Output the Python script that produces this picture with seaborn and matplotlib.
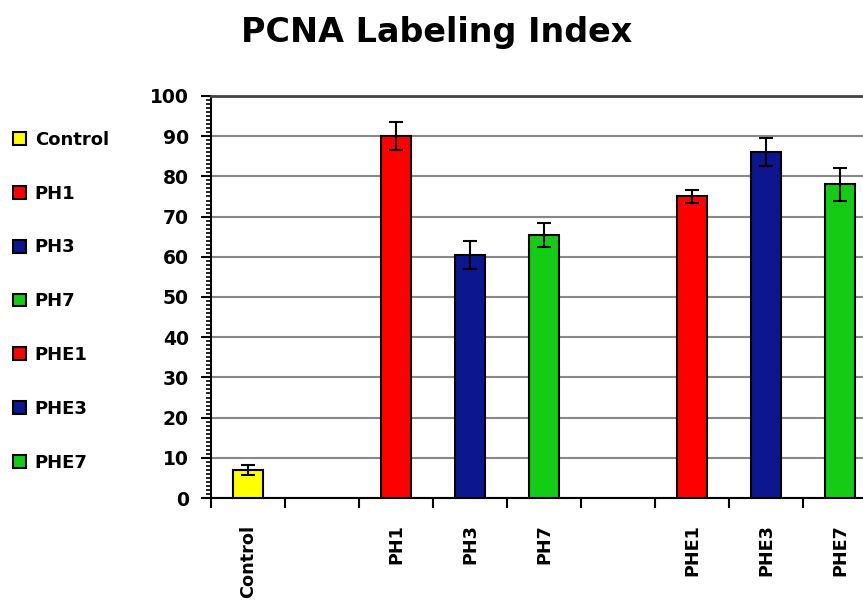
import matplotlib
matplotlib.use("Agg")
import matplotlib.pyplot as plt
from matplotlib.patches import Patch
from matplotlib.ticker import MultipleLocator, FixedLocator
import seaborn as sns
import pandas as pd

# ---- data ----
slots = ["Control", "gap1", "PH1", "PH3", "PH7", "gap2", "PHE1", "PHE3", "PHE7"]
groups = ["Control", "PH1", "PH3", "PH7", "PHE1", "PHE3", "PHE7"]
values = [7.0, 90.0, 60.5, 65.5, 75.0, 86.0, 78.0]
errors = [1.2, 3.5, 3.5, 3.0, 1.5, 3.5, 4.0]
colors = ["#FFFF00", "#FF0000", "#0C168E", "#14CC14", "#FF0000", "#0C168E", "#14CC14"]
tick_labels = ["Control", "", "PH1", "PH3", "PH7", "", "PHE1", "PHE3", "PHE7"]
title = "PCNA Labeling Index"

sns.set_theme(style="white")
plt.rcParams["font.family"] = ["DejaVu Sans"]
plt.rcParams["font.weight"] = "bold"
plt.rcParams["text.color"] = "black"
plt.rcParams["xtick.color"] = "black"
plt.rcParams["ytick.color"] = "black"
plt.rcParams["axes.labelcolor"] = "black"

df = pd.DataFrame({"group": groups, "value": values})

fig = plt.figure(figsize=(8.63, 6.02), dpi=100)
fig.patch.set_facecolor("white")
ax = fig.add_axes([211 / 863, 1 - 498 / 602, (877 - 211) / 863, (498 - 96) / 602])

sns.barplot(data=df, x="group", y="value", hue="group", order=slots,
            palette=dict(zip(groups, colors)), dodge=False, legend=False,
            saturation=1, width=0.4, edgecolor="black", linewidth=1.5,
            errorbar=None, ax=ax, zorder=3)

pos = [slots.index(g) for g in groups]
ax.errorbar(pos, values, yerr=errors, fmt="none", ecolor="black",
            elinewidth=1.5, capsize=5, capthick=1.5, zorder=4)

ax.set_xlim(-0.5, 8.5)
ax.set_ylim(0, 100)
ax.yaxis.set_major_locator(MultipleLocator(10))
ax.yaxis.set_minor_locator(MultipleLocator(1))
ax.grid(axis="y", which="major", color="#888888", linewidth=1.5, zorder=0)
ax.set_axisbelow(True)

ax.set_xticks(range(len(slots)))
ax.set_xticklabels(tick_labels, rotation=90, fontsize=12.7, fontweight="bold",
                   color="black")
ax.xaxis.set_minor_locator(FixedLocator([i - 0.5 for i in range(len(slots) + 1)]))
ax.tick_params(axis="x", which="major", length=0, pad=19)
ax.tick_params(axis="x", which="minor", length=7.5, width=1.5, color="black",
               direction="out", bottom=True)
ax.tick_params(axis="y", which="major", length=7, width=1.5, color="black",
               direction="out", left=True, labelsize=13.5, pad=9,
               labelcolor="black")
ax.tick_params(axis="y", which="minor", length=3.5, width=1.2, color="black",
               direction="out", left=True)
for lab in ax.get_yticklabels():
    lab.set_fontweight("bold")

ax.set_xlabel("")
ax.set_ylabel("")
for s in ["left", "bottom"]:
    ax.spines[s].set_color("black")
    ax.spines[s].set_linewidth(1.5)
ax.spines["top"].set_color("#444444")
ax.spines["top"].set_linewidth(2)
ax.spines["right"].set_visible(False)

fig.text(437 / 863, 1 - 42 / 602, title, ha="center", va="baseline",
         fontsize=24, fontweight="bold", color="black")

handles = [Patch(facecolor=c, edgecolor="black", linewidth=1.5) for c in colors]
leg = fig.legend(handles, groups, loc="upper left",
                 bbox_to_anchor=(13 / 863, 1 - 131 / 602),
                 frameon=False, handlelength=0.7, handleheight=0.7,
                 handletextpad=0.5, labelspacing=1.98, borderaxespad=0,
                 borderpad=0, prop={"weight": "bold", "size": 13})
for t in leg.get_texts():
    t.set_color("black")

fig.savefig("out.png", dpi=100, facecolor="white")
